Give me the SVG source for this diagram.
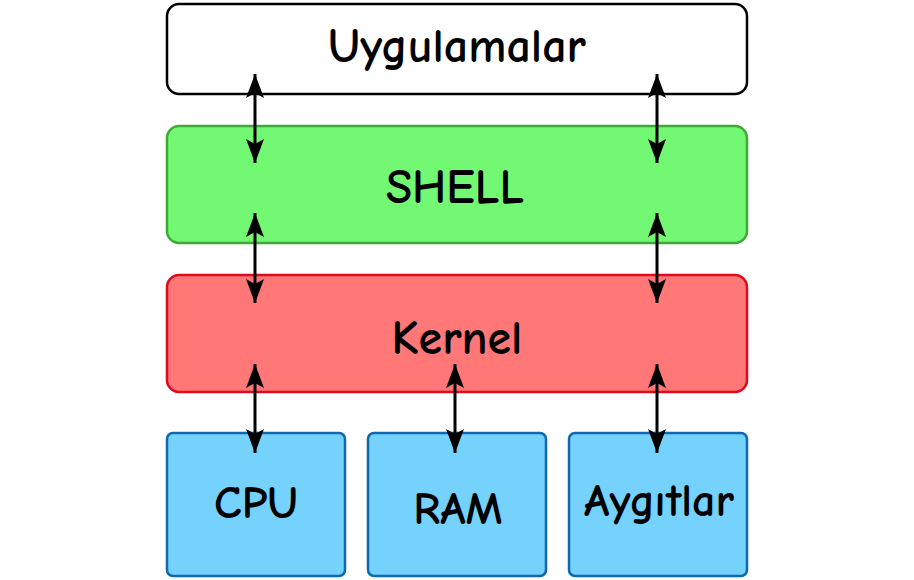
<svg xmlns="http://www.w3.org/2000/svg" width="914" height="580" viewBox="0 0 914 580">
<style>
text{font-family:"Comic Sans MS","Comic Neue","DejaVu Sans","Liberation Sans",sans-serif;fill:#000;text-anchor:middle;font-weight:bold}
.big{font-size:48px}
.small{font-size:46px}
.con{stroke:#000;stroke-width:3;fill:none}
.hw rect{fill:#75D2FC;stroke:#1068B0;stroke-width:2.5}
</style>
<defs>
<marker id="ah" viewBox="0 0 24 18" refX="24" refY="9" markerWidth="24" markerHeight="18" markerUnits="userSpaceOnUse" orient="auto-start-reverse">
<path d="M0,0 L24,9 L0,18 L5,9 Z" fill="#000"/>
</marker>
</defs>
<rect width="914" height="580" fill="#fff"/>
<g id="uygulamalar">
<rect x="167" y="4" width="580" height="90" rx="12" fill="#fff" stroke="#000" stroke-width="2.5"/>
<text class="big" x="457" y="62">Uygulamalar</text>
</g>
<g id="shell">
<rect x="167" y="126" width="580" height="117" rx="12" fill="#72F872" stroke="#3DAA35" stroke-width="2.5"/>
<text class="big" x="455" y="203">SHELL</text>
</g>
<g id="kernel">
<rect x="167" y="275" width="580" height="117" rx="12" fill="#FF7777" stroke="#E00A1E" stroke-width="2.5"/>
<text class="big" x="457" y="354">Kernel</text>
</g>
<g id="cpu" class="hw">
<rect x="167" y="433" width="178" height="143" rx="6"/>
<text class="small" x="256" y="518">CPU</text>
</g>
<g id="ram" class="hw">
<rect x="368" y="433" width="178" height="143" rx="6"/>
<text class="small" x="458" y="524">RAM</text>
</g>
<g id="aygitlar" class="hw">
<rect x="569" y="433" width="178" height="143" rx="6"/>
<text class="small" x="659" y="516">Aygıtlar</text>
</g>
<g id="connectors">
<line class="con" x1="255" y1="74" x2="255" y2="163" marker-start="url(#ah)" marker-end="url(#ah)"/>
<line class="con" x1="657" y1="74" x2="657" y2="163" marker-start="url(#ah)" marker-end="url(#ah)"/>
<line class="con" x1="255" y1="213" x2="255" y2="303" marker-start="url(#ah)" marker-end="url(#ah)"/>
<line class="con" x1="657" y1="213" x2="657" y2="303" marker-start="url(#ah)" marker-end="url(#ah)"/>
<line class="con" x1="255" y1="364" x2="255" y2="453" marker-start="url(#ah)" marker-end="url(#ah)"/>
<line class="con" x1="455" y1="364" x2="455" y2="453" marker-start="url(#ah)" marker-end="url(#ah)"/>
<line class="con" x1="657" y1="364" x2="657" y2="453" marker-start="url(#ah)" marker-end="url(#ah)"/>
</g>
</svg>
